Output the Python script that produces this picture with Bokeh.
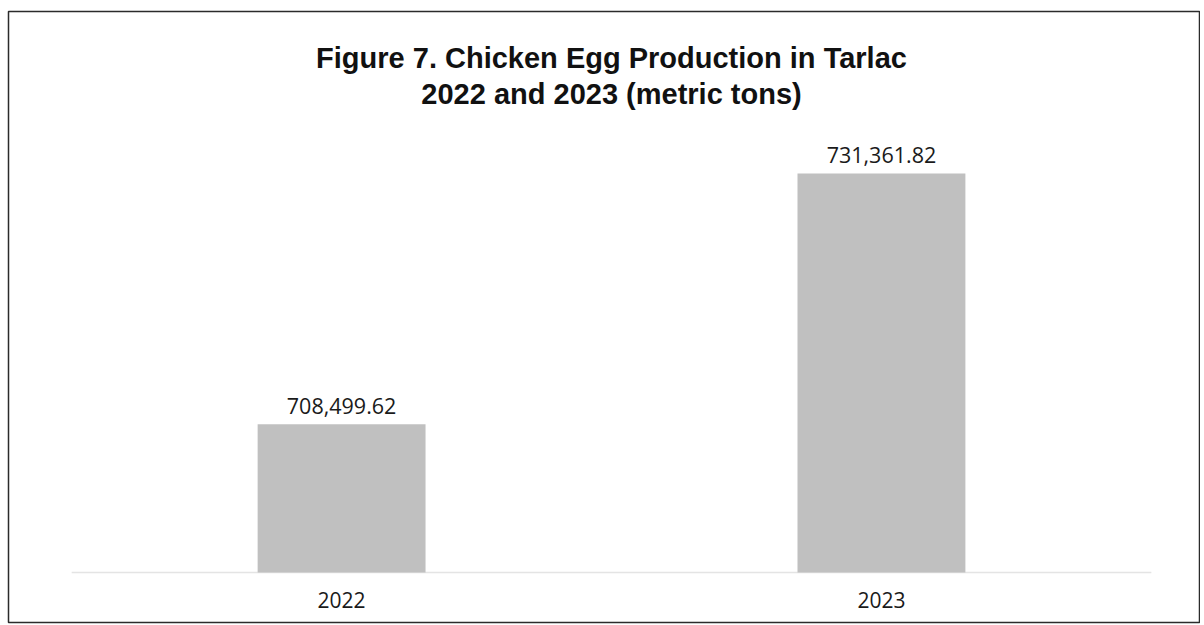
from bokeh.plotting import figure
from bokeh.models import Range1d, ColumnDataSource
from bokeh.core.properties import value
from bokeh.embed import file_html
from bokeh.resources import INLINE

# ---- data ----
categories = ["2022", "2023"]
production = [708499.62, 731361.82]
labels = ["708,499.62", "731,361.82"]
title_lines = ["Figure 7. Chicken Egg Production in Tarlac", "2022 and 2023 (metric tons)"]
axis_min = 695000

idx = list(range(len(categories)))
src = ColumnDataSource(dict(x=idx, top=production, lab=labels, cat=categories,
                            base=[axis_min] * len(idx)))

y_start, y_end = 690443, 746124

p = figure(width=1200, height=624, output_backend="svg", toolbar_location=None,
           x_range=Range1d(-0.617, 1.591), y_range=Range1d(y_start, y_end),
           min_border_left=8, min_border_right=0, min_border_top=11, min_border_bottom=2)
p.axis.visible = False
p.grid.visible = False
p.outline_line_color = "#2b2b2b"
p.outline_line_width = 1.5
p.background_fill_color = "white"
p.border_fill_color = "white"

# faint category axis line
p.segment(x0=[-0.5], x1=[1.5], y0=[axis_min], y1=[axis_min],
          line_color="#e4e4e4", line_width=1.5)

p.vbar(x="x", top="top", bottom="base", width=0.311, source=src,
       fill_color="#c0c0c0", line_color=None)

p.text(x="x", y="top", text="lab", source=src, y_offset=-18,
       text_align="center", text_baseline="alphabetic",
       text_font=value("Open Sans"), text_font_size="21.5px", text_color="#1a1a1a")

p.text(x="x", y="base", text="cat", source=src, y_offset=28,
       text_align="center", text_baseline="middle",
       text_font=value("Open Sans"), text_font_size="21px", text_color="#1a1a1a")

# title (two centered lines)
for i, line in enumerate(title_lines):
    p.text(x=[0.5], y=[y_end], text=[line], y_offset=46 + 36 * i,
           text_align="center", text_baseline="alphabetic",
           text_font=value("Liberation Sans"), text_font_style="bold",
           text_font_size="29px", text_color="#111111")

open("out.html", "w").write(file_html(p, INLINE))
